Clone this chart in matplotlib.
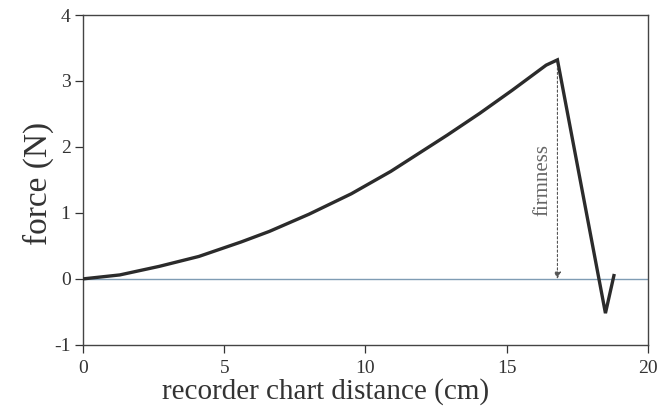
import matplotlib
matplotlib.use('Agg')
import matplotlib.pyplot as plt

# force-distance trace
dist = [0, 1.3, 2.7, 4.1, 5.6, 6.6, 8.0, 9.5, 10.9, 11.7, 12.9, 14.05, 15.2, 16.4, 16.8, 18.5, 18.8]
force = [0, 0.06, 0.19, 0.34, 0.56, 0.72, 0.98, 1.29, 1.63, 1.85, 2.18, 2.51, 2.86, 3.24, 3.32, -0.52, 0.05]

# firmness arrow: from the peak down to zero
firm_x = 16.8
firm_top = 3.2
firm_bottom = 0.0

xticks = [0, 5, 10, 15, 20]
yticks = [-1, 0, 1, 2, 3, 4]

plt.rcParams['font.family'] = ['Liberation Serif', 'DejaVu Serif']
plt.rcParams['axes.unicode_minus'] = False

fig = plt.figure(figsize=(6.59, 4.17), dpi=100)
ax = fig.add_axes([0.126, 0.173, 0.857, 0.791])

# baseline at zero
ax.plot([0, 20], [0, 0], color='#7f9cb4', lw=1.0, zorder=1)
# the trace
ax.plot(dist, force, color='#2b2b2b', lw=2.4, solid_joinstyle='miter', zorder=3)

# firmness annotation
ax.annotate('', xy=(firm_x, firm_bottom), xytext=(firm_x, firm_top),
            arrowprops=dict(arrowstyle='-|>', color='#555555', lw=0.8,
                            linestyle=(0, (2, 2)), mutation_scale=10,
                            shrinkA=0, shrinkB=0))
ax.text(firm_x - 0.5, 1.5, 'firmness', rotation=90, ha='center', va='center',
        fontsize=15, color='#666666')

ax.set_xlim(0, 20)
ax.set_ylim(-1, 4)
ax.set_xticks(xticks)
ax.set_yticks(yticks)
ax.tick_params(direction='out', length=6, width=0.9, labelsize=14,
               colors='#333333')
ax.tick_params(axis='x', pad=5)
ax.tick_params(axis='y', pad=3)
for s in ax.spines.values():
    s.set_color('#444444')
    s.set_linewidth(1.0)

ax.set_xlabel('recorder chart distance (cm)', fontsize=21, color='#333333')
ax.xaxis.set_label_coords(0.43, -0.102)
ax.set_ylabel('force (N)', fontsize=24, color='#333333')
ax.yaxis.set_label_coords(-0.052, 0.49)

fig.savefig('out.png', dpi=100)
